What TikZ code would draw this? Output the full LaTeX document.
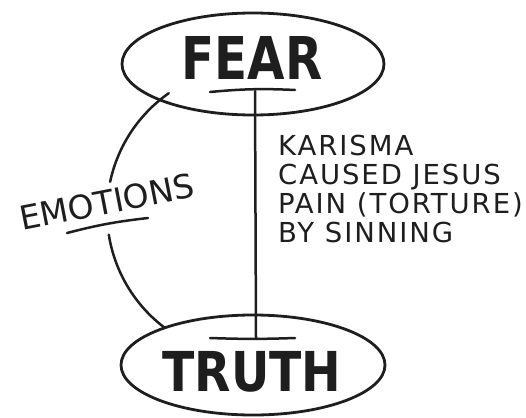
\documentclass[tikz,border=0pt]{standalone}
\usepackage{fontspec}
\usepackage{graphicx}
\setmainfont{DejaVu Sans}
\newfontfamily\handfont{DejaVu Sans}[LetterSpace=7]
\newfontfamily\plainfont{DejaVu Sans}
\newfontfamily\headfont{DejaVu Sans Bold}
\usetikzlibrary{shapes.geometric}
\definecolor{inkc}{HTML}{1E1E1E}
\begin{document}
\begin{tikzpicture}[x=1pt,y=-1pt,
  stroke/.style={draw=inkc, line width=2.5pt, line cap=round},
  bubble/.style={ellipse, draw=inkc, line width=2.8pt, inner sep=0pt},
  title/.style={inner sep=0pt, text=inkc, font=\headfont\fontsize{59}{59}\selectfont},
  hand/.style={inner sep=0pt, text=inkc, align=left, font=\handfont\fontsize{27.5}{28.8}\selectfont},
  emo/.style={inner sep=0pt, text=inkc, font=\plainfont\fontsize{33}{33}\selectfont}]
\useasboundingbox (0,0) rectangle (526,417);
% ellipses
\node[bubble, minimum width=262pt, minimum height=102pt] (fear) at (253,64) {};
\node[bubble, minimum width=264pt, minimum height=100pt] (truth) at (253,365) {};
% titles
\node[title] (fearlbl) at (252,58) {\scalebox{0.82}[1]{FEAR}};
\node[title, font=\headfont\fontsize{55}{55}\selectfont] (truthlbl) at (252,372) {\scalebox{0.86}[1]{TRUTH}};
% underlines
\coordinate (fu1) at (210,92);
\coordinate (fu2) at (295,90);
\coordinate (tu1) at (210,338);
\coordinate (tu2) at (295,338);
\draw[stroke] (fu1) to[bend left=4] (fu2);
\draw[stroke] (tu1) to[bend right=2] (tu2);
% vertical connector
\coordinate (fearstem) at (255,91);
\coordinate (truthstem) at (256,338);
\draw[stroke] (fearstem) -- (truthstem);
% left arc (broken by the label)
\coordinate (arcA) at (168.8,93.2);
\coordinate (arcB) at (108.8,234.7);
\draw[stroke] (arcA) arc[start angle=235, end angle=192, radius=145];
\draw[stroke] (arcB) arc[start angle=171, end angle=127, radius=145];
% EMOTIONS
\node[emo, rotate=11] (emotions) at (107,202) {EMOTIONS};
\coordinate (eu1) at (67,233);
\coordinate (eu2) at (148,218);
\draw[stroke] (eu1) to[bend left=4] (eu2);
% right text
\node[hand, anchor=north west] (note) at (278,135) {KARISMA\\CAUSED JESUS\\PAIN (TORTURE)\\BY SINNING};
\end{tikzpicture}
\end{document}
